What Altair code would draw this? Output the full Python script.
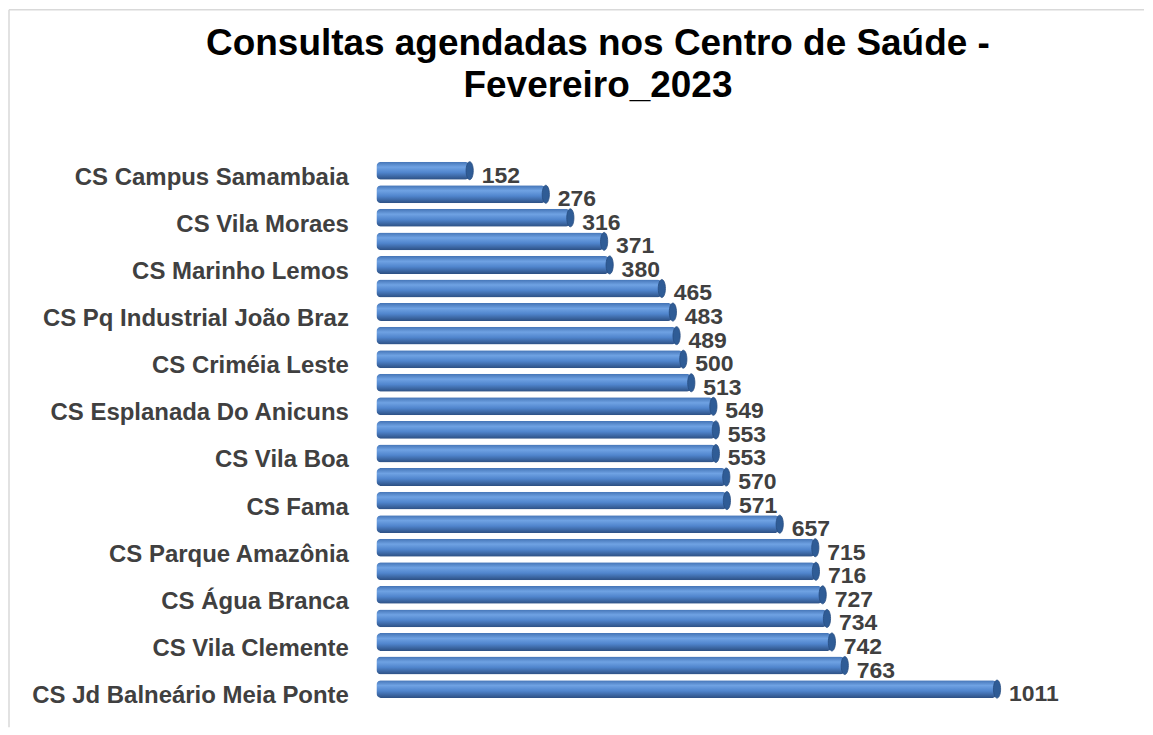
import json
import altair as alt
import pandas as pd

# Data (23 bars, only every other category is labelled)
categorias = [
    "CS Campus Samambaia", "", "CS Vila Moraes", "", "CS Marinho Lemos", "",
    "CS Pq Industrial João Braz", "", "CS Criméia Leste", "",
    "CS Esplanada Do Anicuns", "", "CS Vila Boa", "", "CS Fama", "",
    "CS Parque Amazônia", "", "CS Água Branca", "", "CS Vila Clemente", "",
    "CS Jd Balneário Meia Ponte",
]
valores = [152, 276, 316, 371, 380, 465, 483, 489, 500, 513, 549, 553,
           553, 570, 571, 657, 715, 716, 727, 734, 742, 763, 1011]
rotulos_valor = [str(v) for v in valores]
titulo = ["Consultas agendadas nos Centro de Saúde -", "Fevereiro_2023"]

df = pd.DataFrame({
    "idx": list(range(len(valores))),
    "categoria": categorias,
    "valor": valores,
    "rotulo": rotulos_valor,
})

W, H = 738, 542
OX, OY = 368, 150  # distance from plot origin to chart's top-left border

label_expr = json.dumps(categorias, ensure_ascii=False) + "[datum.value]"

y_enc = alt.Y(
    "idx:O",
    sort="ascending",
    scale=alt.Scale(paddingInner=0.24, paddingOuter=0.1),
    axis=alt.Axis(
        title=None, labelExpr=label_expr, ticks=False, domain=False,
        labelFont="Liberation Sans", labelFontWeight="bold", labelFontSize=24,
        labelColor="#404040", labelPadding=28, labelOffset=7, labelLimit=400,
    ),
)
x_scale = alt.Scale(domain=[0, 1200], nice=False)
x_enc = alt.X("valor:Q", scale=x_scale, axis=None)

grad = alt.Gradient(
    gradient="linear", x1=0, y1=0, x2=0, y2=1,
    stops=[
        alt.GradientStop(color="#4373b5", offset=0),
        alt.GradientStop(color="#6fa2e3", offset=0.3),
        alt.GradientStop(color="#5085cd", offset=0.6),
        alt.GradientStop(color="#2c4f82", offset=1),
    ],
)

base = alt.Chart(df)

bars = base.mark_bar(color=grad, cornerRadius=5).encode(y=y_enc, x=x_enc)

cap_path = "M0,-1 A0.4,1 0 1,1 0,1 A0.4,1 0 1,1 0,-1 Z"
caps = base.mark_point(
    shape=cap_path, filled=True, color="#2f5c96", size=324, opacity=1,
    stroke="#274d80", strokeWidth=0.8,
).encode(y=y_enc, x=x_enc)

texts = base.mark_text(
    align="left", baseline="middle", dx=12, dy=5,
    font="Liberation Sans", fontWeight="bold", fontSize=23, color="#404040",
).encode(y=y_enc, x=x_enc, text="rotulo:N")

top_line = alt.Chart(df.head(1)).mark_rule(color="#d9d9d9", strokeWidth=1.5).encode(
    x=alt.value(-OX), x2=alt.value(1137 - OX), y=alt.value(-OY)
)
left_line = alt.Chart(df.head(1)).mark_rule(color="#d9d9d9", strokeWidth=1.5).encode(
    x=alt.value(-OX), y=alt.value(-OY), y2=alt.value(719 - OY)
)

chart = alt.layer(top_line, left_line, bars, caps, texts).properties(
    width=W, height=H, padding=0,
    title=alt.TitleParams(
        text=titulo, font="Liberation Sans", fontSize=37, fontWeight="bold",
        color="#000000", lineHeight=42, anchor="middle", frame="group",
        dx=-147, offset=-96,
    ),
).configure_view(stroke=None)

chart.save("out.html", embed_options={"renderer": "svg", "actions": False})
